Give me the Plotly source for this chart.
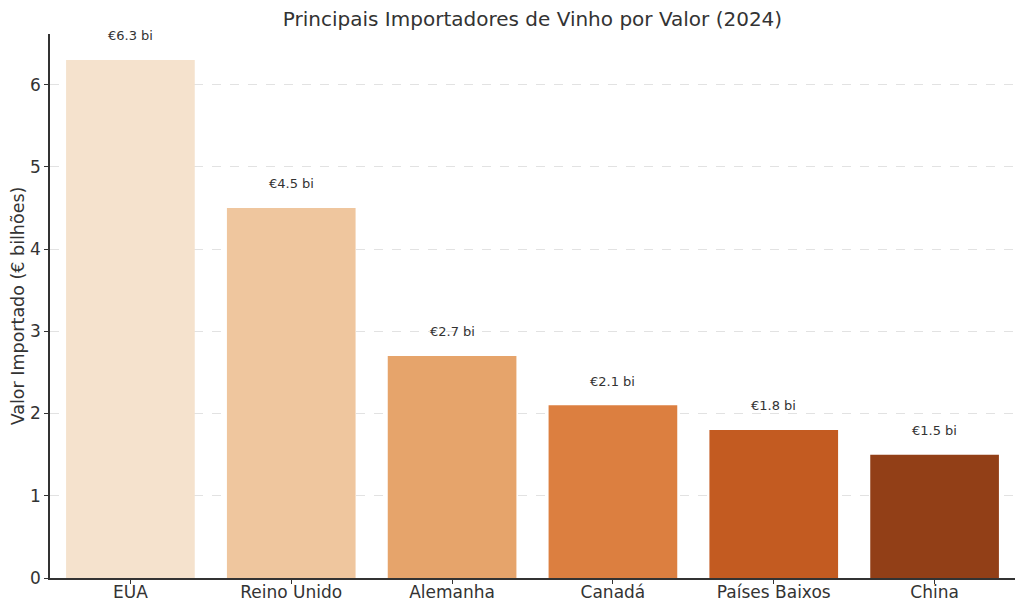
import plotly.graph_objects as go

countries = ["EUA", "Reino Unido", "Alemanha", "Canadá", "Países Baixos", "China"]
values = [6.3, 4.5, 2.7, 2.1, 1.8, 1.5]
labels = ["€6.3 bi", "€4.5 bi", "€2.7 bi", "€2.1 bi", "€1.8 bi", "€1.5 bi"]
colors = ["#f5e2cd", "#efc69e", "#e6a46b", "#dc7f40", "#c35b21", "#923f17"]
yticks = [0, 1, 2, 3, 4, 5, 6]

font = "DejaVu Sans"
W, H = 1024, 611
# page body has an 8px default margin; compensate so the plot lands where the reference has it
OFF = 8
fig = go.Figure()
fig.add_trace(go.Bar(
    x=list(range(len(countries))), y=values, marker_color=colors,
    marker_line_width=0, width=0.8, showlegend=False,
))
for i, (v, t) in enumerate(zip(values, labels)):
    fig.add_annotation(x=i, y=v, text=t, showarrow=False, yshift=24,
                       yanchor="middle", font=dict(family=font, size=13, color="#333333"))

fig.update_layout(
    width=W, height=H,
    margin=dict(l=50 - OFF, r=9 + OFF, t=34 - OFF, b=33 + OFF, autoexpand=False),
    paper_bgcolor="white", plot_bgcolor="white",
    bargap=0.2,
    title=dict(text="Principais Importadores de Vinho por Valor (2024)", x=0.5, xanchor="center",
               xref="paper", y=1 - (19 - OFF) / H, yanchor="middle",
               font=dict(family=font, size=20, color="#333333")),
    font=dict(family=font, color="#333333"),
)
fig.update_xaxes(
    range=[-0.5, 5.5], tickmode="array", tickvals=list(range(len(countries))), ticktext=countries,
    showline=True, linecolor="#333333", linewidth=1.5, ticks="outside", ticklen=4, tickcolor="#333333",
    tickfont=dict(family=font, size=17, color="#333333"), showgrid=False, zeroline=False,
    automargin=False, ticklabelstandoff=-6,
)
fig.update_yaxes(
    range=[0, 6.615], tickvals=yticks,
    showline=True, linecolor="#333333", linewidth=1.5, ticks="outside", ticklen=4, tickcolor="#333333",
    tickfont=dict(family=font, size=17, color="#333333"),
    showgrid=True, gridcolor="#e2e2e2", griddash="dash", gridwidth=1, zeroline=False,
    title=dict(text="Valor Importado (€ bilhões)", font=dict(family=font, size=17.5, color="#333333"), standoff=6),
    automargin=False,
)
fig.write_html("out.html")
